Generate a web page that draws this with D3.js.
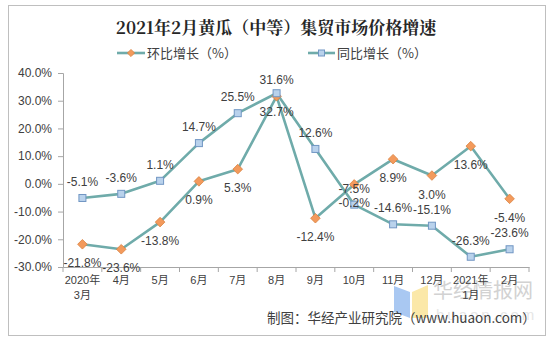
<!DOCTYPE html>
<html><head><meta charset="utf-8">
<script src="https://cdn.jsdelivr.net/npm/d3@7/dist/d3.min.js"></script>
<style>
html,body{margin:0;padding:0;background:#fff;}
svg{display:block;font-family:"Liberation Sans",Arial,"Noto Sans CJK SC",sans-serif;}
</style></head>
<body>
<svg id="c" width="552" height="340"></svg>
<script>
const categories = ["2020年\n3月","4月","5月","6月","7月","8月","9月","10月","11月","12月","2021年\n1月","2月"];
const momValues = [-21.8,-23.6,-13.8,0.9,5.3,31.6,-12.4,-0.2,8.9,3.0,13.6,-5.4];   // 环比增长
const yoyValues = [-5.1,-3.6,1.1,14.7,25.5,32.7,12.6,-7.5,-14.6,-15.1,-26.3,-23.6]; // 同比增长
const yTicks = [-30,-20,-10,0,10,20,30,40];
const seriesNames = ["环比增长（%）","同比增长（%）"];
const titleText = "2021年2月黄瓜（中等）集贸市场价格增速";
const sourceText = "制图：华经产业研究院（www.huaon.com）";

const svg = d3.select("#c");
const lineColor = "#6fabaa", orange = "#f39a5c", orangeStroke = "#d9813f",
      blueFill = "#b9d2ec", blueStroke = "#7196c3", textColor = "#404040", axisColor = "#a6a6a6";
const CJK = "'Noto Sans CJK SC',sans-serif";

// outer border
svg.append("rect").attr("x",8.5).attr("y",5.5).attr("width",537).attr("height",330)
  .attr("fill","#fff").attr("stroke","#bfbfbf").attr("stroke-width",1);

// watermark
const wm = svg.append("g");
wm.append("path").attr("d","M394,286 L410,292 L410,318 L394,312 Z").attr("fill","#a9c8f2");
wm.append("path").attr("d","M412,292 L428,285 L428,318 L412,318 Z").attr("fill","#fbe8a8");
wm.append("text").attr("x",433).attr("y",298).attr("font-family",CJK).attr("font-size",20)
  .attr("fill","#d2d2d2").text("华经情报网");
wm.append("text").attr("x",436).attr("y",320).attr("font-size",15).attr("letter-spacing",3)
  .attr("fill","#e6e6e6").text("huaon.com");

// title
svg.append("text").attr("x",276).attr("y",34).attr("text-anchor","middle")
  .attr("font-family","'Noto Serif CJK SC','Noto Sans CJK SC',serif").attr("font-weight","bold")
  .attr("font-size",17).attr("fill","#262626").text(titleText);

const x = d3.scaleBand().domain(categories).range([63,529]).padding(0);
const cx = d => x(d) + x.bandwidth()/2;
const y = d3.scaleLinear().domain([-30,40]).range([267,73]);

// y axis
const yAxis = svg.append("g").attr("transform","translate(63,0)")
  .call(d3.axisLeft(y).tickValues(yTicks).tickSize(5).tickPadding(6).tickFormat(d => d.toFixed(1)+"%"));
yAxis.select(".domain").attr("stroke",axisColor);
yAxis.selectAll(".tick line").attr("stroke",axisColor);
yAxis.selectAll(".tick text").attr("fill",textColor).attr("font-size",12)
  .attr("font-family","'Liberation Sans',Arial,sans-serif");

// x axis (labels)
const xAxis = svg.append("g").attr("transform","translate(0,267)")
  .call(d3.axisBottom(x).tickSize(0).tickPadding(10).tickFormat(""));
xAxis.select(".domain").attr("stroke",axisColor);
xAxis.selectAll(".tick").each(function(d){
  const lines = d.split("\n");
  const t = d3.select(this).select("text").attr("fill",textColor).attr("font-size",11)
    .attr("font-family","'Liberation Sans',Arial,'Noto Sans CJK SC',sans-serif").attr("dy",null).attr("y",17);
  lines.forEach((l,i)=>t.append("tspan").attr("x",0).attr("dy",i===0?0:15).text(l));
});
// x tick marks at band boundaries
const bounds = categories.map(c => x(c)).concat([x.range()[1]]);
svg.append("g").selectAll("line").data(bounds).join("line")
  .attr("x1",d=>d).attr("x2",d=>d).attr("y1",267).attr("y2",272).attr("stroke",axisColor);

// lines
const line = d3.line().x((d,i)=>cx(categories[i])).y(d=>y(d));
svg.append("path").datum(yoyValues).attr("d",line).attr("fill","none")
  .attr("stroke",lineColor).attr("stroke-width",2.6).attr("stroke-linejoin","round");
svg.append("path").datum(momValues).attr("d",line).attr("fill","none")
  .attr("stroke",lineColor).attr("stroke-width",2.6).attr("stroke-linejoin","round");

// markers
const diamond = r => `M0,${-r} L${r},0 L0,${r} L${-r},0 Z`;
svg.append("g").selectAll("path").data(momValues).join("path")
  .attr("d",diamond(4.8)).attr("transform",(d,i)=>`translate(${cx(categories[i])},${y(d)})`)
  .attr("fill",orange).attr("stroke",orangeStroke).attr("stroke-width",0.8);
svg.append("g").selectAll("rect").data(yoyValues).join("rect")
  .attr("x",(d,i)=>cx(categories[i])-3.5).attr("y",d=>y(d)-3.5).attr("width",7).attr("height",7)
  .attr("fill",blueFill).attr("stroke",blueStroke).attr("stroke-width",1);

// data labels: 环比 below, 同比 above, swapped where the two points nearly coincide
const fmt = v => v.toFixed(1)+"%";
const close = i => Math.abs(momValues[i]-yoyValues[i]) < 3;
const lbl = svg.append("g").attr("font-size",12).attr("fill",textColor).attr("text-anchor","middle")
  .attr("font-family","'Liberation Sans',Arial,sans-serif");
lbl.selectAll("text.m").data(momValues).join("text").attr("class","m")
  .attr("x",(d,i)=>cx(categories[i])).attr("y",(d,i)=>y(d)+(close(i)?-12:23)).text(fmt);
lbl.selectAll("text.y").data(yoyValues).join("text").attr("class","y")
  .attr("x",(d,i)=>cx(categories[i])).attr("y",(d,i)=>y(d)+(close(i)?23:-12)).text(fmt);

// legend
const lg = svg.append("g").attr("font-family",CJK).attr("font-size",13).attr("fill",textColor);
lg.append("line").attr("x1",117).attr("x2",145).attr("y1",53).attr("y2",53).attr("stroke",lineColor).attr("stroke-width",2.6);
lg.append("path").attr("d",diamond(3.6)).attr("transform","translate(131,53)").attr("fill",orange).attr("stroke",orangeStroke).attr("stroke-width",0.8);
lg.append("text").attr("x",147).attr("y",58).text(seriesNames[0]);
lg.append("line").attr("x1",308).attr("x2",335).attr("y1",53).attr("y2",53).attr("stroke",lineColor).attr("stroke-width",2.6);
lg.append("rect").attr("x",318.5).attr("y",50).attr("width",6).attr("height",6).attr("fill",blueFill).attr("stroke",blueStroke);
lg.append("text").attr("x",337).attr("y",58).text(seriesNames[1]);

// source
svg.append("text").attr("x",267).attr("y",323).attr("font-family",CJK).attr("font-size",13.5)
  .attr("fill",textColor).text(sourceText);
</script>
</body></html>
